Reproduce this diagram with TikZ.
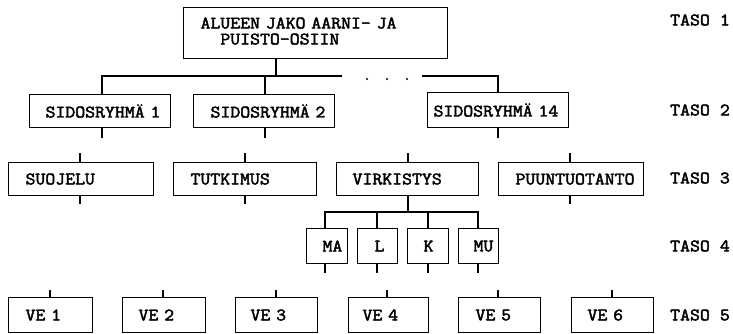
\documentclass[tikz,border=0pt]{standalone}
\usepackage{fontspec}
\newfontfamily\boxfont{Latin Modern Mono}[FakeBold=2.5, FakeStretch=1.1]
% typewriter face with a full-pitch word space
\newcommand\typeface{\boxfont\fontsize{17.5}{17}\selectfont\spaceskip=10.1pt plus 0pt minus 0pt\relax}
\tikzset{
  box/.style={draw, line width=1.1pt, font=\typeface, align=left, inner ysep=0pt},
  wire/.style={line width=1.1pt},
  level/.style={font=\typeface, anchor=west, inner sep=0pt},
}
% \cellbox{name}{x0}{y0}{x1}{y1}{left padding}{text}
\newcommand\cellbox[7]{%
  \pgfmathsetmacro\cellw{#4-#2-2*#6}%
  \pgfmathsetmacro\cellh{#5-#3}%
  \node[box, anchor=north west, inner xsep=#6pt, text width=\cellw pt, minimum height=\cellh pt] (#1) at (#2,#3) {\rlap{#7}};}
\begin{document}
\begin{tikzpicture}[x=1pt, y=-1pt]
\useasboundingbox (0,0) rectangle (733,333);

% level 1
\cellbox{top}{183}{7}{447}{58}{17}{\begin{tabular}{@{}l@{}}ALUEEN JAKO AARNI- JA\\[-1pt]\phantom{xx}PUISTO-OSIIN\end{tabular}}

% level 2
\cellbox{s1}{29}{94}{170}{127}{16}{SIDOSRYHMÄ 1}
\cellbox{s2}{193}{94}{334}{127}{17}{SIDOSRYHMÄ 2}
\cellbox{s14}{427}{92}{568}{127}{6}{SIDOSRYHMÄ 14}

% level 3
\cellbox{suo}{8}{162}{153}{195}{17}{SUOJELU}
\cellbox{tut}{173}{162}{316}{195}{17}{TUTKIMUS}
\cellbox{vir}{336}{162}{478}{195}{16}{VIRKISTYS}
\cellbox{puu}{498}{162}{643}{195}{17}{PUUNTUOTANTO}

% level 4
\cellbox{ma}{306}{228}{347}{263}{16}{MA}
\cellbox{l}{357}{228}{397}{263}{17}{L}
\cellbox{k}{407}{228}{448}{263}{16}{K}
\cellbox{mu}{458}{228}{498}{263}{15}{MU}

% level 5
\cellbox{ve1}{8}{297}{92}{332}{17}{VE 1}
\cellbox{ve2}{122}{297}{205}{332}{16}{VE 2}
\cellbox{ve3}{235}{297}{317}{332}{15}{VE 3}
\cellbox{ve4}{348}{297}{428}{332}{14}{VE 4}
\cellbox{ve5}{458}{297}{540}{332}{17}{VE 5}
\cellbox{ve6}{571}{297}{653}{332}{16}{VE 6}

% level labels
\node[level] (t1) at (670,20) {TASO 1};
\node[level] (t2) at (670,110) {TASO 2};
\node[level] (t3) at (670,178) {TASO 3};
\node[level] (t4) at (670,246) {TASO 4};
\node[level] (t5) at (670,315) {TASO 5};

% branching below level 1
\coordinate (j0) at (276,76);
\coordinate (a1) at (102,76);
\coordinate (a2) at (265,76);
\coordinate (aend) at (342,76);
\coordinate (bstart) at (422,76);
\coordinate (a14) at (498,76);
\draw[wire] (top.south -| j0) -- (j0);
\draw[wire] (a1 |- s1.north) -- (a1) -- (aend);
\draw[wire] (a2) -- (a2 |- s2.north);
\draw[wire] (bstart) -- (a14) -- (a14 |- s14.north);
\foreach \dx in {367,387,407} \fill (\dx,79) circle (1.2);

% open stubs below level 2
\draw[wire] (a1 |- s1.south) -- ++(0,10);
\draw[wire] (a2 |- s2.south) -- ++(0,10);
\draw[wire] (a14 |- s14.south) -- ++(0,10);

% open stubs above and below level 3
\coordinate (c1) at (80,0);
\coordinate (c2) at (245,0);
\coordinate (c3) at (408,0);
\coordinate (c4) at (570,0);
\draw[wire] (c1 |- suo.north) -- ++(0,-9);
\draw[wire] (c2 |- tut.north) -- ++(0,-9);
\draw[wire] (c3 |- vir.north) -- ++(0,-9);
\draw[wire] (c4 |- puu.north) -- ++(0,-9);
\draw[wire] (c1 |- suo.south) -- ++(0,8);
\draw[wire] (c2 |- tut.south) -- ++(0,8);
\draw[wire] (c4 |- puu.south) -- ++(0,8);

% VIRKISTYS split into level 4
\coordinate (v0) at (408,212);
\coordinate (d1) at (325,212);
\coordinate (d2) at (377,212);
\coordinate (d3) at (428,212);
\coordinate (d4) at (478,212);
\draw[wire] (c3 |- vir.south) -- (v0);
\draw[wire] (d1 |- ma.north) -- (d1) -- (d4) -- (d4 |- mu.north);
\draw[wire] (d2) -- (d2 |- l.north);
\draw[wire] (d3) -- (d3 |- k.north);

% open stubs below level 4
\draw[wire] (d1 |- ma.south) -- ++(0,9);
\draw[wire] (d2 |- l.south) -- ++(0,9);
\draw[wire] (d3 |- k.south) -- ++(0,9);
\draw[wire] (d4 |- mu.south) -- ++(0,9);

% open stubs above level 5
\foreach \n/\x in {ve1/50, ve2/163, ve3/276, ve4/387, ve5/498, ve6/612}
  \draw[wire] (\x,0 |- \n.north) -- ++(0,-7);
\end{tikzpicture}
\end{document}
